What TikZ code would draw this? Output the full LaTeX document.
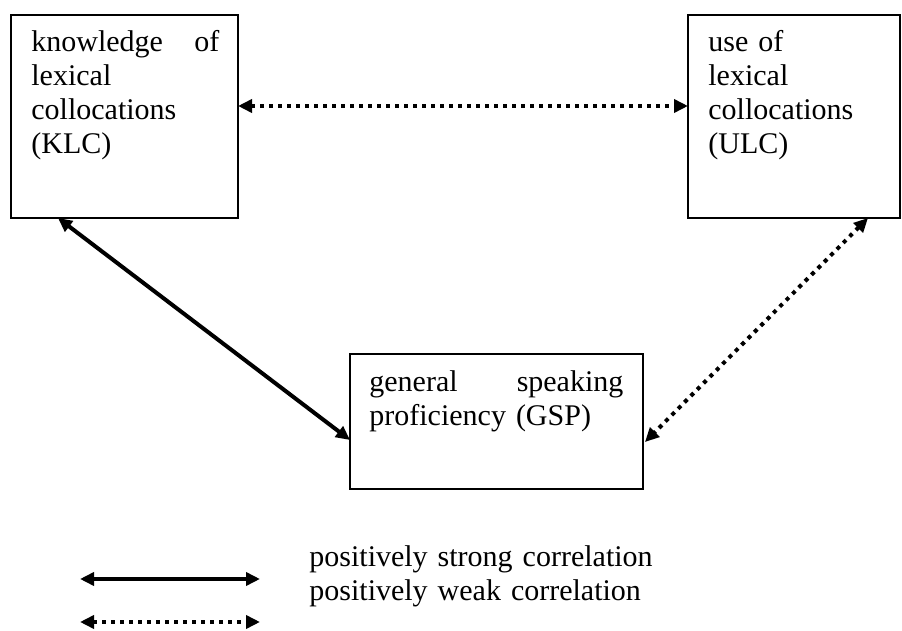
\documentclass[tikz,border=0pt]{standalone}
\usepackage{fontspec}
\setmainfont{Liberation Serif}
\usetikzlibrary{arrows.meta}
\begin{document}
\begin{tikzpicture}[x=0.5pt,y=-0.5pt,
  box/.style={draw, line width=0.9pt, inner sep=0pt, outer sep=0pt, anchor=north west},
  lbl/.style={inner sep=0pt, anchor=base west, align=left, font=\fontsize{15pt}{17pt}\selectfont},
  tip/.style={Triangle[length=7pt,width=6.5pt]},
  strong/.style={line width=2pt, {Triangle[length=7pt,width=6.5pt]}-{Triangle[length=7pt,width=6.5pt]}},
  weak/.style={line width=2pt, dash pattern=on 2pt off 2.5pt, {Triangle[length=7pt,width=6.5pt]}-{Triangle[length=7pt,width=6.5pt]}}]
\useasboundingbox (0,0) rectangle (902,631);
% boxes
\node[box, minimum width=113.5pt, minimum height=101.5pt] (klc) at (11,15) {};
\node[box, minimum width=106pt, minimum height=101.5pt] (ulc) at (688,15) {};
\node[box, minimum width=146.5pt, minimum height=67.5pt] (gsp) at (350,354) {};
% texts
\node[lbl, text width=94pt] (klct) at (31,52) {knowledge \hfill of\\ lexical\\ collocations\\ (KLC)};
\node[lbl, text width=90pt] (ulct) at (708,52) {use of\\ lexical\\ collocations\\ (ULC)};
\node[lbl, text width=127pt] (gspt) at (369,392) {general \hfill speaking\\ proficiency (GSP)};
% connectors
\draw[weak] ([yshift=5.25pt]klc.east) -- ([yshift=5.25pt]ulc.west);
\draw[strong] ([xshift=23.5pt]klc.south west) -- ([yshift=24.5pt]gsp.south west);
\draw[weak] ([xshift=90pt]ulc.south west) -- ([xshift=1pt,yshift=23.5pt]gsp.south east);
% legend
\coordinate (l1a) at (80,579);
\coordinate (l1b) at (260,579);
\coordinate (l2a) at (80,622);
\coordinate (l2b) at (260,622);
\draw[strong] (l1a) -- (l1b);
\draw[weak] (l2a) -- (l2b);
\node[lbl, text width=200pt] (leg) at (309,567) {positively strong correlation\\ positively weak correlation};
\end{tikzpicture}
\end{document}
